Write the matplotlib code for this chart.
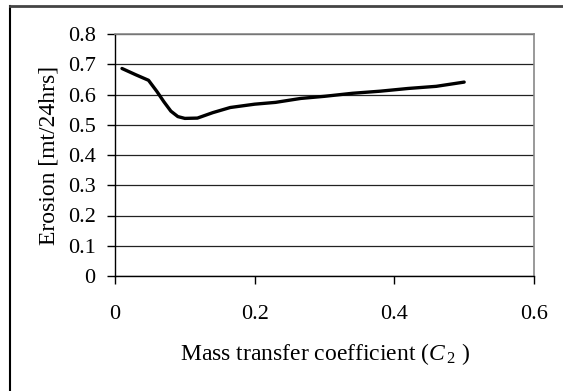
import matplotlib
matplotlib.use("Agg")
import matplotlib.pyplot as plt
from matplotlib.lines import Line2D

plt.rcParams['font.family'] = ['Liberation Serif', 'DejaVu Serif']
plt.rcParams['mathtext.fontset'] = 'custom'
plt.rcParams['mathtext.rm'] = 'Liberation Serif'
plt.rcParams['mathtext.it'] = 'Liberation Serif:italic'

# data
mass_transfer = [0.01, 0.03, 0.048, 0.06, 0.07, 0.08, 0.09, 0.1, 0.118, 0.14,
                 0.165, 0.2, 0.23, 0.266, 0.3, 0.34, 0.38, 0.42, 0.46, 0.5]
erosion = [0.686, 0.665, 0.647, 0.61, 0.576, 0.545, 0.527, 0.521, 0.522, 0.54,
           0.557, 0.568, 0.574, 0.587, 0.594, 0.604, 0.611, 0.62, 0.627, 0.641]
x_ticks = [0, 0.2, 0.4, 0.6]
x_labels = ['0', '0.2', '0.4', '0.6']
y_ticks = [0, 0.1, 0.2, 0.3, 0.4, 0.5, 0.6, 0.7, 0.8]
y_labels = ['0', '0.1', '0.2', '0.3', '0.4', '0.5', '0.6', '0.7', '0.8']

W, H = 563, 391
fig = plt.figure(figsize=(W / 100, H / 100), dpi=100)
ax = fig.add_axes([115 / W, 1 - 276 / H, (534 - 115) / W, (276 - 34) / H])

ax.plot(mass_transfer, erosion, color='black', lw=2.4, solid_capstyle='round',
        solid_joinstyle='round', zorder=3)

ax.set_xlim(0, 0.6)
ax.set_ylim(0, 0.8)
ax.set_xticks(x_ticks)
ax.set_xticklabels(x_labels)
ax.set_yticks(y_ticks)
ax.set_yticklabels(y_labels)
ax.grid(axis='y', color='#222222', lw=0.9)
ax.set_axisbelow(True)
ax.tick_params(axis='both', labelsize=16, color='black', width=1, length=6)
ax.tick_params(axis='x', pad=15)
ax.tick_params(axis='y', pad=8)

for side in ['left', 'bottom']:
    ax.spines[side].set_color('black')
    ax.spines[side].set_linewidth(1)
for side in ['top', 'right']:
    ax.spines[side].set_color('#888888')
    ax.spines[side].set_linewidth(1.2)

ax.set_ylabel('Erosion [mt/24hrs]', fontsize=17, labelpad=6)
ax.set_xlabel(r'Mass transfer coefficient ($C_{\,2}$ )', fontsize=17, labelpad=12)

# outer frame (left and top edges only visible)
fig.add_artist(Line2D([10 / W, 10 / W], [0, 1 - 6 / H], color='black', lw=1.5,
                      transform=fig.transFigure))
fig.add_artist(Line2D([10 / W, 1], [1 - 6 / H, 1 - 6 / H], color='#444444', lw=2,
                      transform=fig.transFigure))

fig.savefig('out.png', dpi=100)
